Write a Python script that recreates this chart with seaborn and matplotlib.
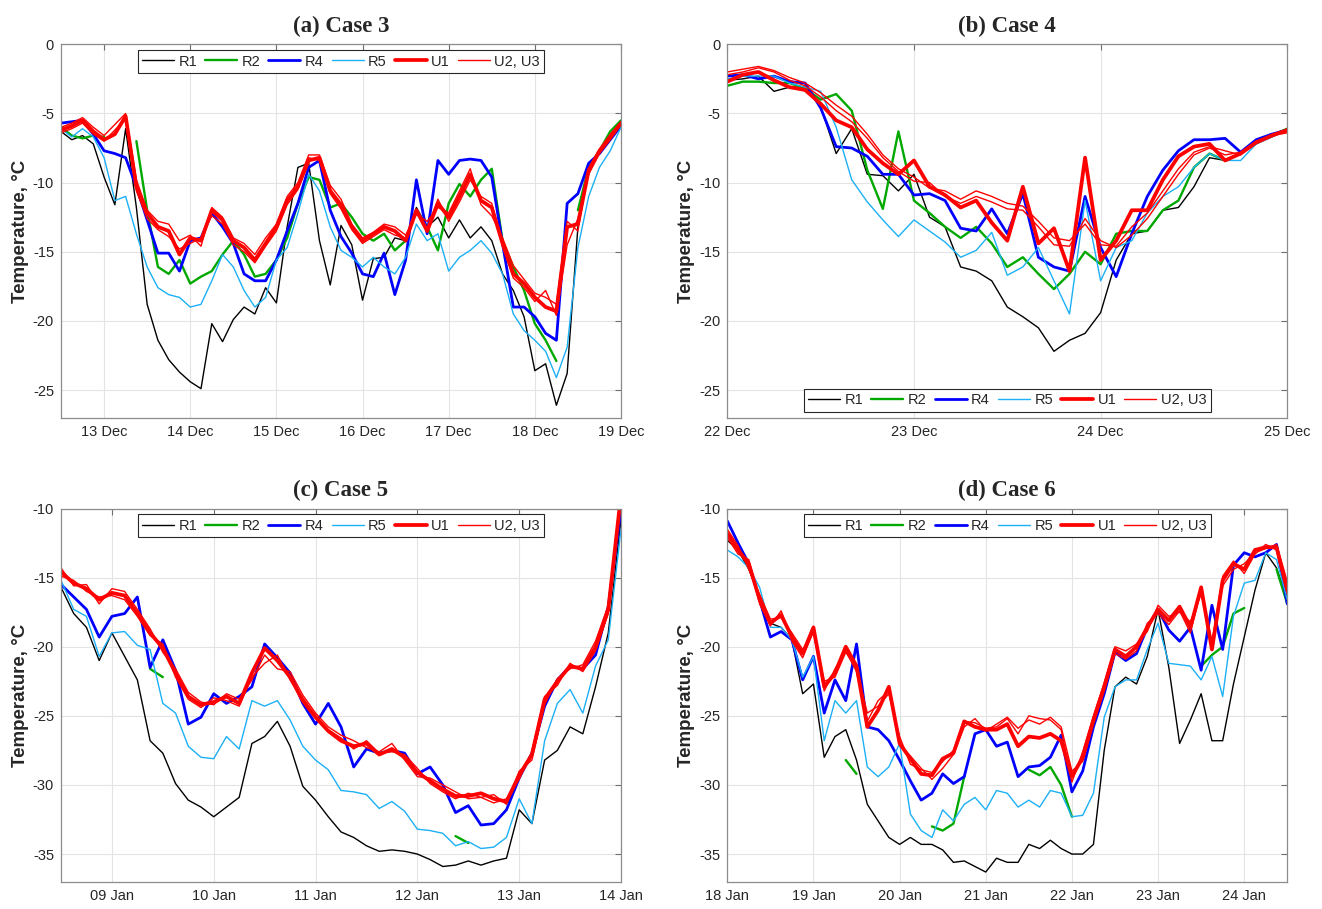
import numpy as np
import pandas as pd
import matplotlib
matplotlib.use("Agg")
import matplotlib.pyplot as plt
import matplotlib.dates as mdates
from matplotlib.lines import Line2D
import seaborn as sns

nan = np.nan

# (a) Case 3, 3-hourly from 12 Dec 12:00 to 19 Dec 00:00
A_START, A_END = "2021-12-12 12:00", "2021-12-19 00:00"
A_R1 = [-6.3, -6.9, -6.6, -7.2, -9.6, -11.6, -6.1, -11.8, -18.8, -21.4, -22.8, -23.7, -24.4, -24.9, -20.2, -21.5,
        -19.9, -19.0, -19.5, -17.6, -18.7, -13.2, -8.9, -8.6, -14.2, -17.4, -13.1, -14.5, -18.5, -15.5, -15.4, -14.0,
        -14.2, -11.8, -13.2, -12.5, -14.0, -12.7, -14.0, -13.2, -14.2, -16.6, -17.8, -19.7, -23.6, -23.1, -26.1, -23.8,
        -13.2, -9.1, -7.7, -6.7, -5.9]
A_R2 = [-6.0, -6.6, -6.8, -6.6, -6.7, nan, nan, -7.0, -12.0, -16.1, -16.6, -15.6, -17.3, -16.8, -16.4, -15.2,
        -14.2, -15.2, -16.8, -16.6, -15.6, -14.0, -11.5, -9.6, -9.8, -11.8, -11.5, -12.5, -13.7, -14.2, -13.7, -14.9,
        -14.2, -12.0, -13.2, -14.9, -11.5, -10.1, -11.0, -9.8, -9.0, -14.2, -16.1, -17.8, -20.2, -21.4, -22.9, nan,
        -12.0, -8.9, -7.7, -6.3, -5.5]
A_R4 = [-5.7, -5.6, -5.5, -6.5, -7.7, -7.9, -8.2, -10.3, -12.7, -15.1, -15.1, -16.4, -14.2, -14.0, -12.2, -13.2,
        -14.4, -16.6, -17.1, -17.1, -15.6, -13.5, -11.5, -8.9, -8.4, -12.0, -13.9, -15.1, -16.6, -16.8, -15.1, -18.1,
        -15.6, -9.8, -13.7, -8.4, -9.4, -8.4, -8.3, -8.4, -9.6, -14.4, -19.0, -19.0, -19.7, -20.9, -21.4, -11.5,
        -10.8, -8.6, -7.9, -6.9, -5.9]
A_R5 = [-6.1, -6.7, -6.1, -6.7, -8.2, -11.3, -11.0, -13.7, -16.1, -17.6, -18.1, -18.3, -19.0, -18.8, -17.1, -15.2,
        -16.1, -17.8, -19.0, -18.3, -15.6, -14.7, -12.2, -9.4, -10.6, -13.2, -14.9, -15.4, -16.1, -15.4, -16.1, -16.6,
        -15.4, -13.0, -14.2, -13.7, -16.4, -15.4, -14.9, -14.2, -15.1, -16.6, -19.5, -20.7, -21.4, -22.2, -24.1, -21.9,
        -14.7, -11.0, -8.9, -7.7, -6.0]
A_U1 = [-6.2, -5.9, -5.5, -6.3, -6.9, -6.5, -5.2, -10.3, -12.2, -13.2, -13.5, -15.2, -14.0, -14.2, -12.0, -12.7,
        -14.2, -14.7, -15.6, -14.4, -13.2, -11.3, -10.3, -8.4, -8.2, -10.6, -11.6, -13.2, -14.2, -13.7, -13.2, -13.5,
        -14.2, -12.0, -13.5, -11.5, -12.5, -11.0, -9.4, -11.3, -11.8, -14.4, -16.6, -17.3, -18.3, -19.0, -19.3, -13.2,
        -13.0, -9.1, -7.7, -6.7, -5.7]
A_U2 = [-6.0, -5.7, -5.3, -6.0, -6.6, -5.8, -5.0, -9.8, -12.0, -12.8, -13.0, -14.2, -13.8, -14.6, -11.8, -12.5,
        -14.0, -14.4, -15.2, -14.0, -13.0, -11.0, -10.0, -8.0, -8.0, -10.2, -11.2, -13.0, -14.0, -13.6, -13.0, -13.2,
        -13.8, -12.3, -12.8, -11.8, -12.2, -10.6, -9.0, -11.6, -12.4, -14.0, -16.0, -17.0, -18.0, -18.3, -18.8, -12.8,
        -13.5, -9.0, -7.6, -6.5, -5.6]
A_U3 = [-6.4, -6.1, -5.7, -6.5, -7.0, -6.2, -5.4, -10.6, -12.6, -13.4, -13.9, -14.8, -14.4, -14.0, -12.4, -13.0,
        -14.5, -15.0, -15.8, -14.6, -13.5, -11.6, -10.5, -8.2, -8.4, -10.8, -11.9, -13.4, -14.4, -13.9, -13.4, -13.8,
        -14.0, -12.1, -13.3, -11.2, -12.8, -11.4, -9.8, -11.0, -11.5, -14.6, -16.9, -17.6, -18.6, -17.8, -19.6, -14.5,
        -12.6, -9.4, -7.9, -6.9, -5.8]

# (b) Case 4, 2-hourly from 22 Dec to 25 Dec
B_START, B_END = "2021-12-22 00:00", "2021-12-25 00:00"
B_R1 = [-2.6, -2.5, -2.3, -3.4, -3.1, -3.1, -4.5, -7.9, -6.1, -9.4, -9.5, -10.6, -9.4, -12.5, -13.2, -16.1,
        -16.4, -17.1, -19.0, -19.7, -20.5, -22.2, -21.4, -20.9, -19.4, -15.6, -13.7, -13.5, -12.0, -11.8, -10.3, -8.2,
        -8.4, -7.9, -7.2, -6.7, -6.2]
B_R2 = [-3.0, -2.7, -2.7, -2.8, -2.8, -3.2, -4.0, -3.6, -4.8, -9.1, -11.9, -6.3, -11.3, -12.2, -13.2, -14.0,
        -13.2, -14.4, -16.1, -15.4, -16.6, -17.7, -16.6, -15.0, -15.9, -13.7, -13.5, -13.5, -12.0, -11.3, -8.9, -7.9,
        -8.4, -7.9, -7.1, -6.6, -6.1]
B_R4 = [-2.3, -2.2, -2.5, -2.3, -2.7, -2.8, -4.6, -7.4, -7.5, -8.1, -9.4, -9.4, -10.9, -10.8, -11.3, -13.3,
        -13.5, -11.9, -13.7, -10.8, -15.4, -16.1, -16.4, -11.0, -14.7, -16.8, -13.7, -11.0, -9.1, -7.7, -6.9, -6.9,
        -6.8, -7.8, -6.9, -6.5, -6.2]
B_R5 = [-2.5, -2.3, -2.3, -2.3, -2.8, -3.1, -3.4, -6.0, -9.8, -11.4, -12.7, -13.9, -12.7, -13.5, -14.3, -15.4,
        -14.9, -13.6, -16.7, -16.1, -14.7, -17.1, -19.5, -11.3, -17.1, -14.7, -14.2, -12.2, -11.0, -10.3, -8.9, -7.9,
        -8.4, -8.4, -7.2, -6.7, -6.2]
B_U1 = [-2.7, -2.2, -2.0, -2.6, -3.1, -3.3, -4.3, -5.5, -6.0, -7.6, -8.6, -9.4, -8.4, -10.3, -10.9, -11.8,
        -11.3, -12.9, -14.2, -10.3, -14.4, -13.3, -16.4, -8.2, -15.6, -14.2, -12.0, -12.0, -9.8, -8.1, -7.4, -7.2,
        -8.4, -7.9, -7.1, -6.6, -6.2]
B_U2 = [-2.0, -1.8, -1.6, -1.9, -2.4, -2.8, -3.5, -4.4, -5.2, -6.5, -8.0, -9.0, -9.6, -10.4, -10.6, -11.2,
        -10.6, -11.0, -11.5, -11.7, -12.8, -14.0, -14.2, -13.0, -14.5, -14.6, -13.2, -12.2, -10.6, -9.0, -7.8, -7.4,
        -7.7, -8.0, -7.0, -6.6, -6.3]
B_U3 = [-2.2, -2.0, -1.7, -2.0, -2.6, -3.0, -3.8, -4.8, -5.6, -6.8, -8.2, -9.2, -9.9, -10.0, -11.0, -11.5,
        -11.0, -11.4, -11.9, -12.0, -13.2, -14.5, -14.6, -12.6, -14.2, -14.7, -13.8, -12.6, -11.0, -9.4, -8.0, -7.5,
        -8.0, -7.8, -7.0, -6.6, -6.4]

# (c) Case 5, 3-hourly from 08 Jan 12:00 to 14 Jan
C_START, C_END = "2022-01-08 12:00", "2022-01-14 00:00"
C_R1 = [-15.7, -17.6, -18.6, -21.0, -19.0, -20.7, -22.4, -26.8, -27.7, -29.9, -31.1, -31.6, -32.3, -31.6, -30.9,
        -27.0, -26.5, -25.4, -27.2, -30.1, -31.1, -32.3, -33.4, -33.8, -34.4, -34.8, -34.7, -34.8, -35.0, -35.4,
        -35.9, -35.8, -35.5, -35.8, -35.5, -35.3, -31.8, -32.8, -28.2, -27.5, -25.8, -26.3, -22.9, -19.0, -10.8]
C_R2 = [nan, nan, nan, nan, nan, nan, nan, -21.6, -22.2, nan, nan, nan, nan, nan, nan,
        nan, nan, nan, nan, nan, nan, nan, nan, nan, nan, nan, nan, nan, nan, nan,
        nan, -33.7, -34.2, nan, nan, nan, nan, nan, nan, nan, nan, nan, nan, nan, nan]
C_R4 = [-15.5, -16.4, -17.3, -19.3, -17.8, -17.6, -16.4, -21.5, -19.5, -21.7, -25.6, -25.1, -23.4, -24.1, -23.6,
        -22.9, -19.8, -20.8, -21.9, -24.1, -25.6, -24.1, -25.8, -28.7, -27.4, -27.7, -27.5, -27.7, -29.2, -28.7,
        -30.0, -32.0, -31.5, -32.9, -32.8, -31.8, -29.5, -27.7, -24.3, -22.4, -21.4, -21.6, -20.6, -17.1, -10.1]
C_R5 = [-15.2, -17.3, -17.8, -20.7, -19.0, -18.9, -19.9, -20.2, -24.1, -24.8, -27.2, -28.0, -28.1, -26.5, -27.4,
        -23.9, -24.3, -23.9, -25.3, -27.2, -28.2, -28.9, -30.4, -30.5, -30.7, -31.7, -31.2, -31.9, -33.2, -33.3,
        -33.5, -34.4, -34.1, -34.6, -34.5, -33.8, -31.0, -32.8, -26.8, -24.1, -23.1, -24.8, -21.4, -19.5, -11.5]
C_U1 = [-14.6, -15.4, -15.8, -16.6, -16.1, -16.3, -17.6, -19.0, -20.1, -21.9, -23.6, -24.2, -24.0, -23.6, -24.1,
        -21.9, -20.1, -21.0, -22.2, -23.9, -25.1, -26.1, -26.8, -27.2, -27.0, -27.8, -27.4, -28.0, -29.1, -29.7,
        -30.3, -30.8, -30.8, -30.6, -31.0, -31.2, -29.3, -27.8, -23.8, -22.5, -21.4, -21.6, -20.0, -17.3, -9.0]
C_U2 = [-14.3, -15.6, -15.5, -16.9, -15.8, -16.0, -17.3, -18.7, -20.4, -21.6, -23.3, -24.0, -24.2, -23.4, -23.8,
        -22.4, -20.6, -21.6, -21.8, -23.5, -24.8, -25.8, -26.4, -26.8, -27.3, -27.6, -27.0, -28.2, -29.4, -29.5,
        -30.0, -30.5, -31.0, -30.9, -30.7, -31.4, -29.0, -28.2, -24.2, -22.3, -21.6, -21.3, -19.6, -17.0, -9.2]
C_U3 = [-14.9, -15.2, -16.0, -16.4, -16.3, -16.6, -17.8, -19.2, -19.8, -22.2, -23.8, -24.4, -23.7, -23.9, -24.3,
        -22.2, -21.2, -20.6, -22.4, -23.7, -25.0, -26.0, -26.6, -27.4, -26.8, -27.7, -27.6, -27.8, -28.8, -29.9,
        -30.5, -31.0, -30.6, -30.9, -31.3, -31.0, -29.6, -27.6, -23.6, -22.8, -21.2, -21.8, -20.3, -17.6, -9.5]

# (d) Case 6, 3-hourly from 18 Jan to 24 Jan 12:00
D_START, D_END = "2022-01-18 00:00", "2022-01-24 12:00"
D_R1 = [-12.3, -13.0, -14.4, -16.4, -18.3, -18.6, -19.5, -23.4, -22.7, -28.0, -26.5, -26.0, -28.2, -31.4, -32.6,
        -33.8, -34.3, -33.8, -34.3, -34.3, -34.7, -35.6, -35.5, -35.9, -36.3, -35.3, -35.6, -35.6, -34.3, -34.6,
        -34.0, -34.6, -35.0, -35.0, -34.3, -27.5, -22.9, -22.2, -22.7, -20.7, -17.3, -21.5, -27.0, -25.3, -23.4,
        -26.8, -26.8, -22.7, -19.3, -15.9, -13.2, -14.3, -16.6]
D_R2 = [nan, nan, nan, nan, nan, nan, nan, nan, nan, nan, nan, -28.2, -29.2, nan, nan,
        nan, nan, nan, nan, -33.0, -33.3, -32.8, -29.4, nan, nan, nan, nan, nan, -28.9, -29.3,
        -28.7, -30.0, -32.3, nan, nan, nan, nan, nan, nan, nan, nan, nan, nan, nan, -21.4,
        -20.6, -20.0, -17.6, -17.2, nan, nan, -14.4, -16.9]
D_R4 = [-10.9, -12.5, -14.0, -16.6, -19.3, -18.9, -19.5, -22.4, -20.7, -24.8, -22.4, -23.9, -19.8, -25.8, -26.0,
        -26.8, -28.2, -29.7, -31.1, -30.6, -29.2, -29.9, -29.4, -26.3, -26.0, -27.2, -26.9, -29.4, -28.7, -28.6,
        -28.0, -26.4, -30.5, -29.0, -25.8, -23.4, -20.4, -21.0, -20.5, -18.6, -17.3, -18.8, -19.6, -18.6, -21.7,
        -17.0, -20.2, -14.1, -13.2, -13.5, -13.2, -12.6, -16.9]
D_R5 = [-13.0, -13.5, -14.3, -15.7, -18.6, -18.6, -19.5, -22.2, -20.7, -26.8, -23.9, -24.8, -23.9, -28.7, -29.4,
        -28.7, -27.0, -32.1, -33.3, -33.8, -31.8, -32.6, -31.4, -30.9, -31.8, -30.4, -30.6, -31.6, -31.1, -31.6,
        -30.4, -30.6, -32.3, -32.2, -30.6, -25.1, -22.9, -22.4, -22.4, -20.2, -18.3, -21.2, -21.3, -21.4, -22.4,
        -20.7, -23.6, -17.8, -15.4, -15.2, -13.2, -13.7, -16.6]
D_U1 = [-11.8, -13.0, -14.0, -16.6, -18.3, -17.7, -19.3, -20.5, -18.6, -22.9, -21.9, -20.0, -21.4, -25.8, -24.6,
        -22.9, -27.0, -28.1, -29.2, -29.3, -28.1, -27.7, -25.4, -25.8, -26.0, -26.0, -25.6, -27.2, -26.5, -26.6,
        -26.3, -26.8, -29.4, -28.0, -25.3, -22.9, -20.2, -20.7, -20.0, -18.6, -17.3, -18.1, -17.1, -18.6, -15.7,
        -20.2, -15.2, -14.0, -14.4, -13.0, -12.8, -12.8, -15.9]
D_U2 = [-11.5, -12.7, -14.4, -16.2, -18.0, -17.9, -19.0, -20.2, -19.0, -22.5, -22.2, -20.4, -21.6, -24.8, -24.3,
        -23.4, -26.5, -28.5, -28.9, -29.1, -28.3, -27.5, -25.4, -25.5, -25.9, -25.8, -25.2, -26.3, -25.0, -25.2,
        -25.3, -26.0, -29.8, -27.6, -25.0, -22.6, -20.0, -20.3, -19.8, -18.9, -17.0, -17.8, -17.5, -18.2, -16.2,
        -19.6, -15.6, -14.4, -14.0, -13.2, -12.9, -12.6, -15.3]
D_U3 = [-12.1, -13.3, -13.7, -16.9, -18.5, -17.4, -19.6, -20.8, -18.9, -23.2, -21.6, -20.3, -21.8, -25.4, -23.9,
        -23.2, -27.1, -27.9, -28.8, -29.6, -28.8, -27.8, -25.8, -25.2, -26.1, -25.6, -25.1, -25.9, -25.3, -25.6,
        -25.1, -25.8, -29.0, -28.3, -25.6, -23.2, -20.5, -20.9, -20.3, -18.3, -17.6, -18.4, -17.4, -19.0, -15.9,
        -19.8, -14.9, -13.8, -14.7, -13.3, -12.6, -13.0, -16.2]

SERIES = ["R1", "R2", "R4", "R5", "U1", "U2", "U3"]
COLORS = {"R1": "#000000", "R2": "#00a800", "R4": "#0000ff", "R5": "#1cb0f6",
          "U1": "#ff0000", "U2": "#ff0000", "U3": "#ff0000"}
WIDTHS = {"R1": 1.0, "R2": 1.7, "R4": 2.0, "R5": 1.0, "U1": 2.7, "U2": 1.0, "U3": 1.0}
LEG_LABELS = ["R1", "R2", "R4", "R5", "U1", "U2, U3"]

PANELS = [
    {"title": "(a) Case 3", "start": A_START, "end": A_END, "freq": "3h",
     "data": [A_R1, A_R2, A_R4, A_R5, A_U1, A_U2, A_U3],
     "ylim": (-27, 0), "yticks": [0, -5, -10, -15, -20, -25], "legloc": "upper center",
     "rect": [61, 44.3, 560, 373.4]},
    {"title": "(b) Case 4", "start": B_START, "end": B_END, "freq": "2h",
     "data": [B_R1, B_R2, B_R4, B_R5, B_U1, B_U2, B_U3],
     "ylim": (-27, 0), "yticks": [0, -5, -10, -15, -20, -25], "legloc": "lower center",
     "rect": [727.3, 44.3, 560, 373.4]},
    {"title": "(c) Case 5", "start": C_START, "end": C_END, "freq": "3h",
     "data": [C_R1, C_R2, C_R4, C_R5, C_U1, C_U2, C_U3],
     "ylim": (-37, -10), "yticks": [-10, -15, -20, -25, -30, -35], "legloc": "upper center",
     "rect": [61, 508.5, 560, 373.2]},
    {"title": "(d) Case 6", "start": D_START, "end": D_END, "freq": "3h",
     "data": [D_R1, D_R2, D_R4, D_R5, D_U1, D_U2, D_U3],
     "ylim": (-37, -10), "yticks": [-10, -15, -20, -25, -30, -35], "legloc": "upper center",
     "rect": [727.3, 508.5, 560, 373.2]},
]

W, H = 1322, 909
sns.set_style("white")
plt.rcParams["font.family"] = ["Liberation Sans", "DejaVu Sans"]
plt.rcParams["axes.unicode_minus"] = False
fig = plt.figure(figsize=(W / 100, H / 100), dpi=100)

for p in PANELS:
    l, t, w, h = p["rect"]
    ax = fig.add_axes([l / W, 1 - (t + h) / H, w / W, h / H])
    times = pd.date_range(p["start"], p["end"], freq=p["freq"])
    for name, vals in zip(SERIES, p["data"]):
        df = pd.DataFrame({"time": times, "T": vals})
        df["seg"] = df["T"].isna().cumsum()
        df = df.dropna()
        sns.lineplot(data=df, x="time", y="T", units="seg", estimator=None,
                     color=COLORS[name], linewidth=WIDTHS[name], ax=ax, legend=False)
    ax.set_xlim(times[0], times[-1])
    ax.set_ylim(*p["ylim"])
    ax.set_yticks(p["yticks"])
    ax.xaxis.set_major_locator(mdates.DayLocator())
    ax.xaxis.set_major_formatter(mdates.DateFormatter("%d %b"))
    ax.grid(True, color="#e3e3e3", linewidth=0.8)
    ax.set_axisbelow(True)
    for s in ax.spines.values():
        s.set_color("#8c8c8c")
        s.set_linewidth(0.9)
    ax.tick_params(direction="in", top=True, right=True, length=4, width=0.8,
                   color="#6e6e6e", labelsize=10.5, labelcolor="#262626", pad=5)
    ax.set_xlabel("")
    ax.set_ylabel("Temperature, \u00b0C", fontsize=13.5, fontweight="bold", labelpad=3, color="#262626")
    ax.set_title(p["title"], fontsize=16.5, fontweight="bold",
                 family=["Liberation Serif", "DejaVu Serif"], pad=9)
    handles = [Line2D([], [], color=COLORS[s], linewidth=WIDTHS[s]) for s in ["R1", "R2", "R4", "R5", "U1", "U2"]]
    leg = ax.legend(handles, LEG_LABELS, loc=p["legloc"], ncol=6, fontsize=10.5, frameon=True,
                    fancybox=False, edgecolor="#262626", framealpha=1, borderaxespad=0.4,
                    handlelength=2.2, handletextpad=0.3, columnspacing=0.55, borderpad=0.3)
    leg.get_frame().set_linewidth(0.8)

fig.savefig("out.png", dpi=100)
